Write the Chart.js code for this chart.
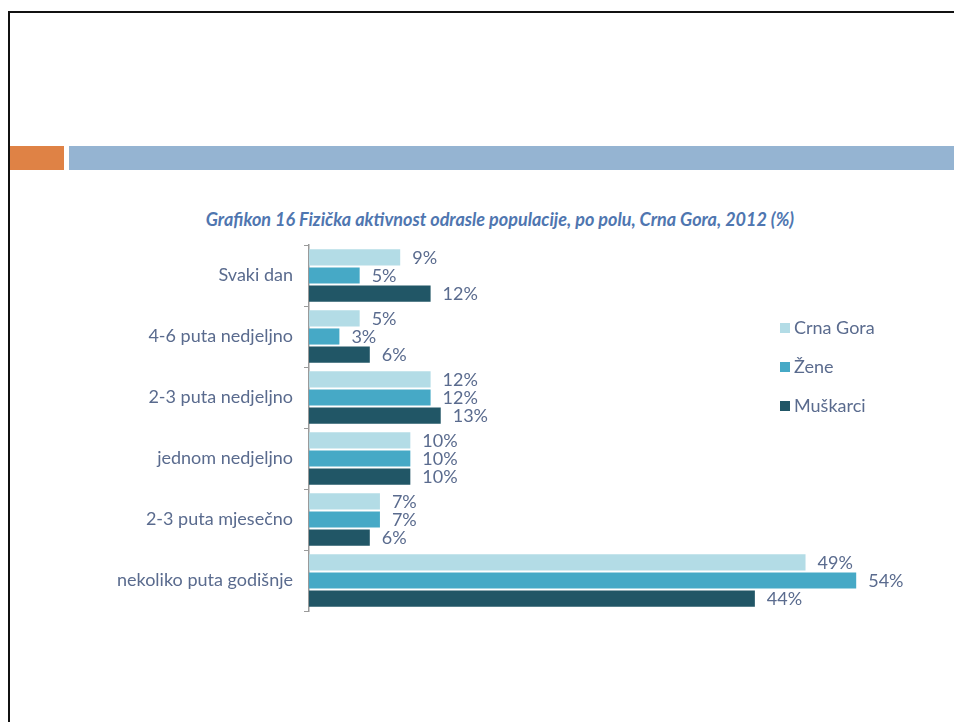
<!DOCTYPE html>
<html>
<head>
<meta charset="utf-8">
<script src="https://cdn.jsdelivr.net/npm/chart.js@4"></script>
<style>
  html, body { margin: 0; padding: 0; background: #fff; }
  body { width: 954px; height: 722px; position: relative; overflow: hidden; font-family: Lato, "Open Sans", sans-serif; }
  .frame { position: absolute; left: 8px; top: 11px; width: 960px; height: 740px; border-top: 2px solid #111; border-left: 2px solid #111; }
  .accent { position: absolute; left: 10px; top: 146px; width: 54px; height: 24px; background: #df8245; }
  .band { position: absolute; left: 69px; top: 146px; width: 890px; height: 24px; background: #95b4d2; }
  .title { position: absolute; left: 0; width: 1000px; top: 208px; text-align: center; font-size: 18px; font-weight: bold; font-style: italic; color: #4f76b0; }
  #chart { position: absolute; left: 0; top: 0; }
  .legend { position: absolute; left: 780px; top: 316px; color: #5a6b8e; font-size: 18px; }
  .legend div { height: 39px; line-height: 22px; }
  .legend span { display: inline-block; width: 10px; height: 10px; margin-right: 4px; vertical-align: 1px; }
</style>
</head>
<body>
<div class="frame"></div>
<div class="accent"></div>
<div class="band"></div>
<div class="title">Grafikon 16 Fizička aktivnost odrasle populacije, po polu, Crna Gora, 2012 (%)</div>
<canvas id="chart" width="954" height="722"></canvas>
<div class="legend" id="legend"></div>
<script>
const categories = ['Svaki dan', '4-6 puta nedjeljno', '2-3 puta nedjeljno', 'jednom nedjeljno', '2-3 puta mjesečno', 'nekoliko puta godišnje'];
const crnaGora = [9, 5, 12, 10, 7, 49];
const zene = [5, 3, 12, 10, 7, 54];
const muskarci = [12, 6, 13, 10, 6, 44];
const seriesNames = ['Crna Gora', 'Žene', 'Muškarci'];
const seriesColors = ['#b3dce6', '#46a9c6', '#215666'];

const textColor = '#5a6b8e';
const fontFamily = 'Lato, "Open Sans", sans-serif';

// percentage written just past the end of each bar
const valueLabels = {
    id: 'valueLabels',
    afterDatasetsDraw(chart) {
        const ctx = chart.ctx;
        ctx.save();
        ctx.font = '18px ' + fontFamily;
        ctx.fillStyle = textColor;
        ctx.textAlign = 'left';
        ctx.textBaseline = 'middle';
        chart.data.datasets.forEach((ds, di) => {
            chart.getDatasetMeta(di).data.forEach((bar, i) => {
                ctx.fillText(ds.data[i] + '%', bar.x + 12, bar.y + 1);
            });
        });
        ctx.restore();
    }
};

const chart = new Chart(document.getElementById('chart'), {
    type: 'bar',
    data: {
        labels: categories,
        datasets: [crnaGora, zene, muskarci].map((values, i) => ({
            label: seriesNames[i],
            data: values,
            backgroundColor: seriesColors[i],
            categoryPercentage: 0.89,
            barPercentage: 0.89
        }))
    },
    options: {
        indexAxis: 'y',
        responsive: false,
        animation: false,
        layout: { padding: { top: 245, bottom: 111, right: 37, left: 0 } },
        plugins: { legend: { display: false }, tooltip: { enabled: false } },
        scales: {
            x: { display: false, min: 0, max: 60 },
            y: {
                afterFit(scale) { scale.width = 309; },
                grid: { offset: true, drawOnChartArea: false, tickLength: 5, color: '#9a9a9a' },
                border: { display: true, color: '#9a9a9a', width: 1.5 },
                ticks: { color: textColor, padding: 11, font: { family: fontFamily, size: 18 } }
            }
        }
    },
    plugins: [valueLabels]
});

const legend = document.getElementById('legend');
seriesNames.forEach((name, i) => {
    const row = document.createElement('div');
    row.innerHTML = '<span style="background:' + seriesColors[i] + '"></span>' + name;
    legend.appendChild(row);
});
</script>
</body>
</html>
